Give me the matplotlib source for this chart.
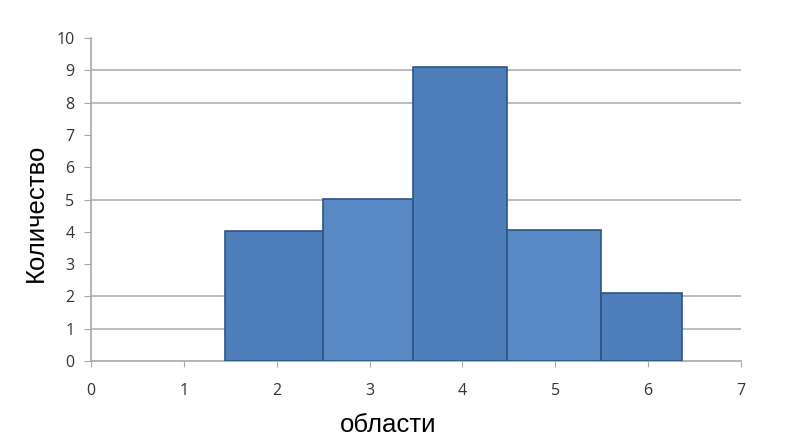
import matplotlib.pyplot as plt
import numpy as np

# bin edges along the x axis and bar heights
edges = [1.44, 2.5, 3.47, 4.48, 5.49, 6.37]
counts = [4.02, 5.02, 9.1, 4.05, 2.1]
bar_colors = ['#4e7fbb', '#5889c4', '#4e7fbb', '#5889c4', '#4e7fbb']
grid_vals = [1, 2, 5, 8, 9]  # only these gridlines are visible in the picture
x_ticks = [0, 1, 2, 3, 4, 5, 6, 7]
y_ticks = [0, 1, 2, 3, 4, 5, 6, 7, 8, 9, 10]

fig = plt.figure(figsize=(8, 4.48), dpi=100)
ax = fig.add_axes([0.114, 0.194, 0.812, 0.721])

widths = np.diff(edges)
ax.bar(edges[:-1], counts, width=widths, align='edge', color=bar_colors,
       edgecolor='#2c5487', linewidth=1.2, zorder=3)

for v in grid_vals:
    ax.axhline(v, color='#b0b0b0', linewidth=1.2, zorder=1)

ax.set_xlim(0, 7)
ax.set_ylim(0, 10)
ax.set_xticks(x_ticks)
ax.set_yticks(y_ticks)

for s in ['top', 'right']:
    ax.spines[s].set_visible(False)
for s in ['left', 'bottom']:
    ax.spines[s].set_color('#a8a8a8')
    ax.spines[s].set_linewidth(1.2)

ax.tick_params(axis='y', length=5, color='#a8a8a8', labelsize=11.5, pad=7, labelcolor='#333333')
ax.tick_params(axis='x', length=4, color='#a8a8a8', labelsize=11.5, pad=12, labelcolor='#333333')
for lab in ax.get_xticklabels() + ax.get_yticklabels():
    lab.set_family('Open Sans')

# axis titles sit a bit off-centre in the original
fig.text(388 / 800, 1 - 425 / 448, 'области', fontsize=18.5, family='Liberation Sans',
         ha='center', va='center')
fig.text(36 / 800, 1 - 213 / 448, 'Количество', fontsize=18.5, family='Liberation Sans',
         ha='center', va='center', rotation=90)

fig.savefig('out.png', dpi=100)
